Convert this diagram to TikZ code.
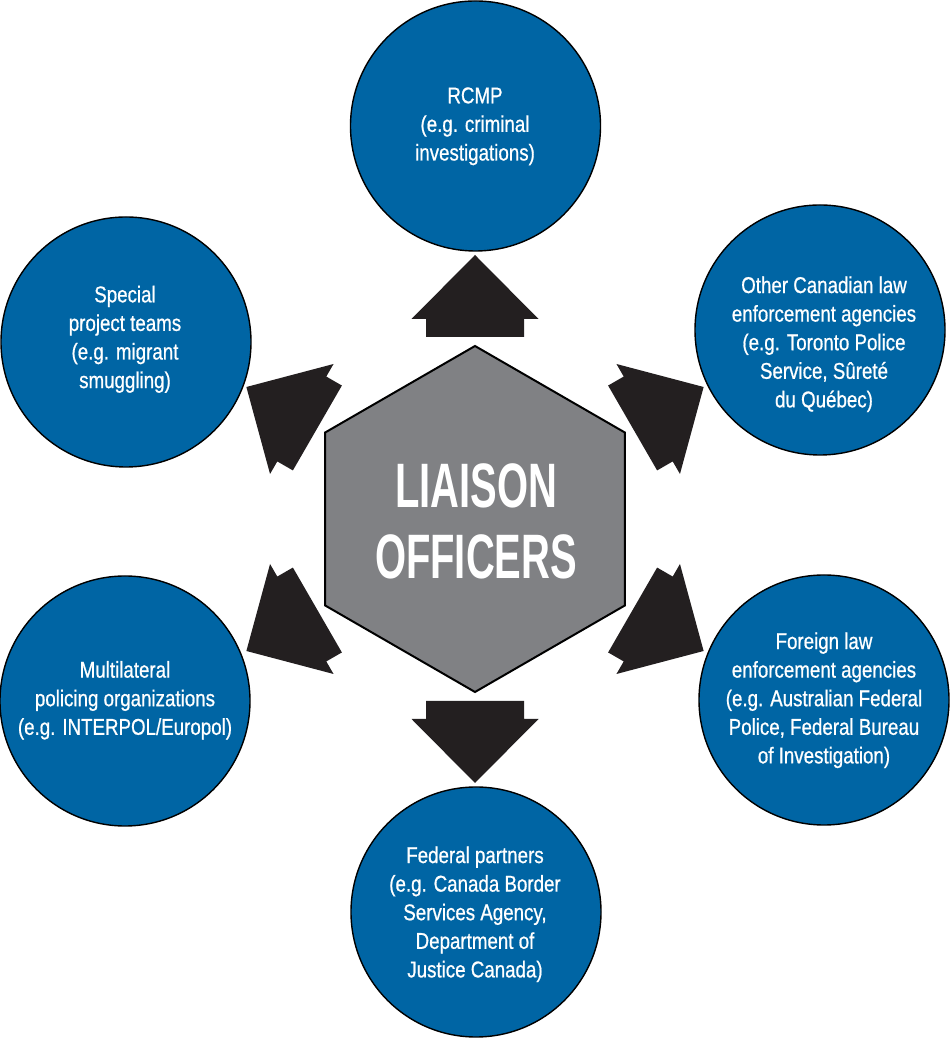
\documentclass[tikz,border=0pt]{standalone}
\usepackage{fontspec}
\newfontfamily\circfont[FakeStretch=0.82,FakeBold=0.7]{Liberation Sans}
\newfontfamily\hexfont[FakeStretch=0.636]{Liberation Sans}
\definecolor{circblue}{RGB}{0,101,164}
\definecolor{hexgray}{RGB}{128,129,132}
\definecolor{arrowblack}{RGB}{35,31,32}
\tikzset{
  circ/.style={circle, draw=black, line width=1.2pt, fill=circblue, minimum size=75mm, inner sep=0pt, outer sep=0pt},
  circtext/.style={text=white, align=center, inner sep=0pt, font=\circfont\fontsize{19.5}{24.4}\selectfont},
  hexshape/.style={draw=black, line width=1.7pt, fill=hexgray, line join=miter},
  hextext/.style={text=white, align=center, inner sep=0pt, font=\hexfont\bfseries\fontsize{53.6}{60.6}\selectfont},
  bigarrow/.style={fill=arrowblack, draw=none}
}
\begin{document}
\begin{tikzpicture}[x=0.3mm,y=0.3mm]
\useasboundingbox (0,0) rectangle (950,1038);
% circles
\node[circ] (top) at (475.5,912) {};
\node[circ] (ur) at (820,708) {};
\node[circ] (lr) at (824,338) {};
\node[circ] (bot) at (476,126) {};
\node[circ] (ll) at (125,337) {};
\node[circ] (ul) at (126,696) {};
% hexagon and arrows
\begin{scope}[shift={(475,519)}]
  \draw[hexshape] (90:173) -- (30:173) -- (-30:173) -- (-90:173) -- (-150:173) -- (150:173) -- cycle;
  \foreach \a in {90,30,-30,-90,-150,150}{
    \fill[bigarrow, rotate=\a] (182,-49) -- (200,-49) -- (200,-63.5) -- (264,0) -- (200,63.5) -- (200,49) -- (182,49) -- cycle;
  }
\end{scope}
\node[hextext] (hexlabel) at (476,516.5) {LIAISON\\OFFICERS};
% labels
\node[circtext] (ttop) at (475,911.7) {RCMP\\(e.g. criminal\\investigations)};
\node[circtext] (tur) at (824,693.7) {Other Canadian law\\enforcement agencies\\(e.g. Toronto Police\\Service, Sûreté\\du Québec)};
\node[circtext] (tlr) at (824,337.7) {Foreign law\\enforcement agencies\\(e.g. Australian Federal\\Police, Federal Bureau\\of Investigation)};
\node[circtext] (tbot) at (475,123.7) {Federal partners\\(e.g. Canada Border\\Services Agency,\\Department of\\Justice Canada)};
\node[circtext] (tll) at (125,337.7) {Multilateral\\policing organizations\\(e.g. INTERPOL/Europol)};
\node[circtext] (tul) at (125,698.7) {Special\\project teams\\(e.g. migrant\\smuggling)};
\end{tikzpicture}
\end{document}
